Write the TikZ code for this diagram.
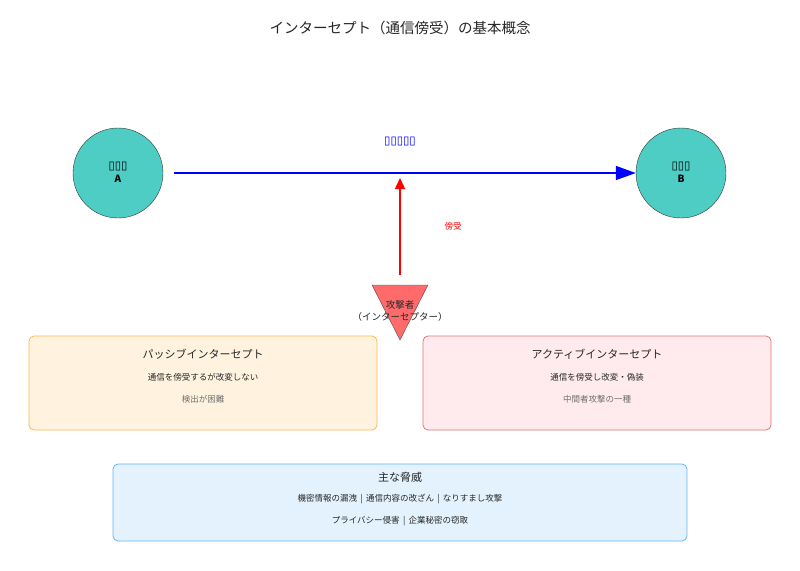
\documentclass[tikz,border=0pt]{standalone}
\usepackage{fontspec}
\setmainfont{Noto Sans CJK JP}
\newfontfamily\symfont{DejaVu Sans}
\usetikzlibrary{arrows.meta}
\definecolor{teal}{RGB}{78,205,196}
\definecolor{atkred}{RGB}{255,107,107}
\definecolor{passfill}{RGB}{255,243,224}
\definecolor{passline}{RGB}{255,183,77}
\definecolor{actfill}{RGB}{255,235,238}
\definecolor{actline}{RGB}{229,115,115}
\definecolor{thrfill}{RGB}{227,242,253}
\definecolor{thrline}{RGB}{100,181,246}
\definecolor{sub}{RGB}{110,110,110}
\newcommand{\tofu}[1]{{\symfont\fontsize{11.5}{11}\selectfont #1}}
\begin{document}
\begin{tikzpicture}[x=1pt,y=-1pt,font=\fontsize{9}{11}\selectfont]
  \tikzstyle{party}=[circle, draw=black!80, fill=teal, minimum size=90pt, inner sep=0pt]
  \tikzstyle{partytext}=[font=\fontsize{10}{10}\selectfont, inner sep=0pt]
  \tikzstyle{infobox}=[rounded corners=5pt, line width=0.8pt]
  \tikzstyle{boxtitle}=[font=\fontsize{11}{13}\selectfont, text=black!85]
  \tikzstyle{boxline}=[font=\fontsize{8.5}{10}\selectfont, text=black!85]
  \tikzstyle{boxnote}=[font=\fontsize{8.5}{10}\selectfont, text=sub]
  \useasboundingbox (0,0) rectangle (800,570);
  \node[font=\fontsize{14.5}{16}\selectfont, text=black!85] (title) at (400,28) {インターセプト（通信傍受）の基本概念};
  % communicating parties
  \node[party] (alice) at (118,173) {};
  \node[partytext] (alicename) at (118,167) {\tofu{▯▯▯}};
  \node[partytext] (aliceid) at (118,179) {\textbf{A}};
  \node[party] (bob) at (681,173) {};
  \node[partytext] (bobname) at (681,167) {\tofu{▯▯▯}};
  \node[partytext] (bobid) at (681,179) {\textbf{B}};
  \draw[blue, line width=1.5pt, -{Triangle[length=20pt,width=14pt]}] (alice.east) ++(11,0) coordinate (start) -- (bob.west) coordinate (tip);
  \coordinate (tap) at (400,173);
  \node[text=blue] (normal) at (400,142) {\tofu{\color{blue}▯▯▯▯▯}};
  % attacker
  \draw[black!70, fill=atkred] (372,285) -- (428,285) -- (400,340) -- cycle;
  \node[align=center, font=\fontsize{9.5}{11.5}\selectfont, text=black!85] (attacker) at (400,311) {攻撃者\\（インターセプター）};
  \coordinate (src) at (400,275);
  \draw[red, line width=1.5pt, -{Triangle[length=11pt,width=10pt]}] (src) -- ([yshift=-5pt]tap);
  \node[text=red, font=\fontsize{8.5}{10}\selectfont] (eaves) at (453,226) {傍受};
  % two kinds
  \draw[infobox, draw=passline, fill=passfill] (29,336) rectangle (377,430);
  \node[boxtitle] (passive) at (203,354) {パッシブインターセプト};
  \node[boxline] (passline1) at (203,377) {通信を傍受するが改変しない};
  \node[boxnote] (passline2) at (203,399) {検出が困難};
  \draw[infobox, draw=actline, fill=actfill] (423,336) rectangle (771,430);
  \node[boxtitle] (active) at (597,354) {アクティブインターセプト};
  \node[boxline] (actline1) at (597,377) {通信を傍受し改変・偽装};
  \node[boxnote] (actline2) at (597,399) {中間者攻撃の一種};
  % threats
  \draw[infobox, draw=thrline, fill=thrfill] (113,464) rectangle (687,541);
  \node[boxtitle] (threats) at (400,477) {主な脅威};
  \node[boxline] (thrline1) at (400,499) {機密情報の漏洩 \,|\, 通信内容の改ざん \,|\, なりすまし攻撃};
  \node[boxline] (thrline2) at (400,521) {プライバシー侵害 \,|\, 企業秘密の窃取};
\end{tikzpicture}
\end{document}
